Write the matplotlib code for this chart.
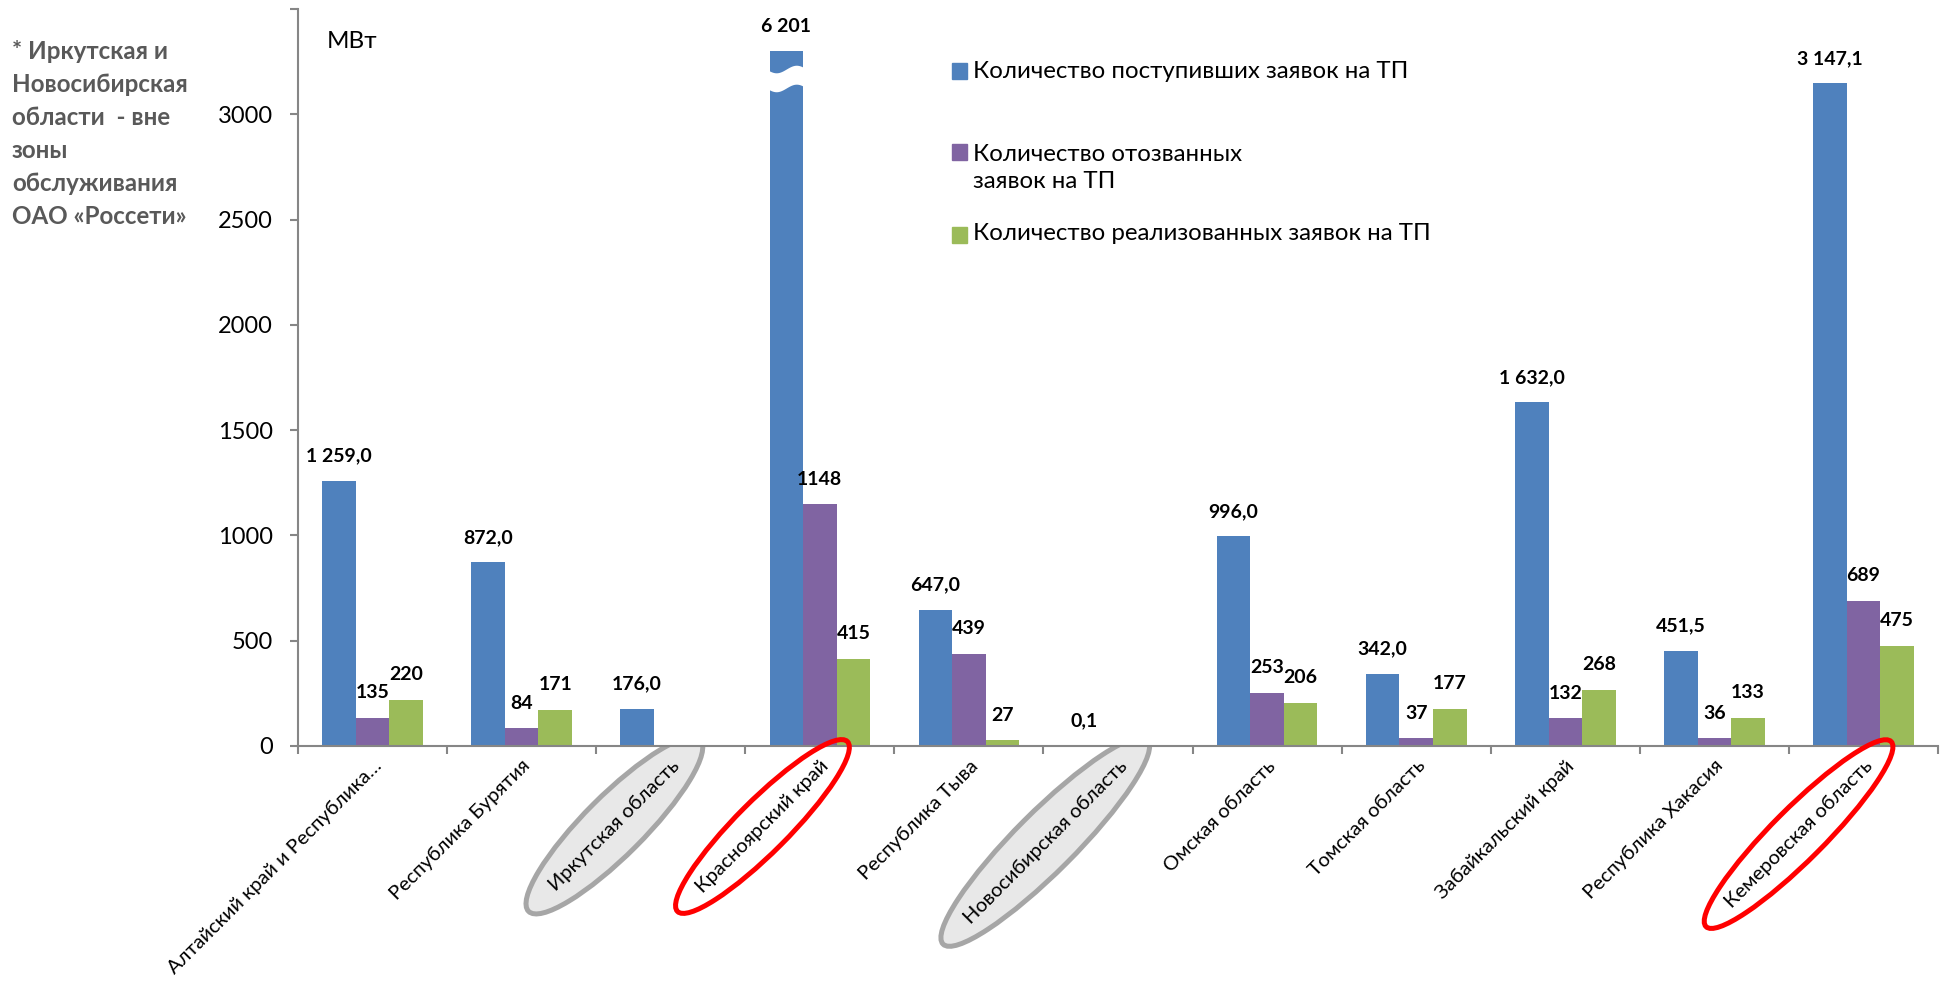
import numpy as np
import matplotlib
matplotlib.use("Agg")
import matplotlib.pyplot as plt
from matplotlib.patches import Ellipse, Rectangle

plt.rcParams['font.family'] = ['Lato', 'DejaVu Sans']

regions = ["Алтайский край и Республика…", "Республика Бурятия", "Иркутская область",
           "Красноярский край", "Республика Тыва", "Новосибирская область", "Омская область",
           "Томская область", "Забайкальский край", "Республика Хакасия", "Кемеровская область"]
received = [1259.0, 872.0, 176.0, 6201.0, 647.0, 0.1, 996.0, 342.0, 1632.0, 451.5, 3147.1]
withdrawn = [135, 84, np.nan, 1148, 439, np.nan, 253, 37, 132, 36, 689]
realized = [220, 171, np.nan, 415, 27, np.nan, 206, 177, 268, 133, 475]
series_names = ["Количество поступивших заявок на ТП",
                "Количество отозванных\nзаявок на ТП",
                "Количество реализованных заявок на ТП"]
gray_marked = ["Иркутская область", "Новосибирская область"]
red_marked = ["Красноярский край", "Кемеровская область"]
note = "* Иркутская и\nНовосибирская\nобласти  - вне\nзоны\nобслуживания\nОАО «Россети»"

colors = ['#4F81BD', '#8064A2', '#9BBB59']
y_max = 3500
cut_at = 3300   # tall bar is drawn broken at this level

W, H = 1946, 985
fig = plt.figure(figsize=(W / 100, H / 100), dpi=100)
ax = fig.add_axes([298 / W, (H - 746) / H, (1938 - 298) / W, (746 - 9) / H])

x = np.arange(len(regions))
bw = 0.225


def fmt_received(v):
    if v > cut_at:
        return f"{v:,.0f}".replace(",", " ")
    return f"{v:,.1f}".replace(",", " ").replace(".", ",")


all_series = [received, withdrawn, realized]
for k, vals in enumerate(all_series):
    vals = np.array(vals, dtype=float)
    xs = x + (k - 1) * bw + 0.5
    ax.bar(xs, np.minimum(vals, cut_at), width=bw, color=colors[k], zorder=2)
    for xi, v in zip(xs, vals):
        if np.isnan(v):
            continue
        txt = fmt_received(v) if k == 0 else f"{v:.0f}"
        ax.annotate(txt, (xi, min(v, cut_at)), xytext=(0, 18), textcoords='offset points',
                    ha='center', va='center', fontsize=14, fontweight='bold', zorder=4)

# break mark on the clipped bar
i_big = int(np.argmax(received))
xb = np.linspace(i_big + 0.5 - 1.6 * bw, i_big + 0.5 - 0.4 * bw, 50)
t = np.linspace(0, 2 * np.pi, 50)
ax.fill_between(xb, 3125 + 18 * np.sin(t + np.pi), 3215 + 18 * np.sin(t + np.pi),
                color='white', zorder=3, lw=0)

ax.set_xlim(0, len(regions))
ax.set_ylim(0, y_max)
ax.set_yticks(np.arange(0, y_max + 1, 500))
ax.set_yticklabels([str(v) if v < y_max else "" for v in range(0, y_max + 1, 500)], fontsize=17)
ax.set_xticks(np.arange(0, len(regions) + 1))
ax.set_xticklabels([])
ax.set_xticks(x + 0.5, minor=True)
ax.set_xticklabels(regions, minor=True, rotation=45, ha='right', rotation_mode='anchor',
                   fontsize=14.5)
ax.tick_params(axis='x', which='minor', length=0, pad=8)
ax.tick_params(axis='x', which='major', length=6, width=1.5, color='#868686', direction='out')
ax.tick_params(axis='y', length=6, width=1.5, color='#868686', pad=12)
for s in ['top', 'right']:
    ax.spines[s].set_visible(False)
for s in ['left', 'bottom']:
    ax.spines[s].set_color('#868686')
    ax.spines[s].set_linewidth(1.5)

# units and note
fig.text(327 / W, 1 - 41 / H, "МВт", fontsize=17.5, va='center', ha='left')
fig.text(12 / W, 1 - 40 / H, note, fontsize=17.4, fontweight='bold', color='#595959',
         va='top', ha='left', linespacing=1.53)

# legend drawn by hand
leg_y = [71, 168, 233]
sq_y = [71, 152, 235]
for k in range(3):
    fig.add_artist(Rectangle((952 / W, 1 - (sq_y[k] + 7.5) / H), 15 / W, 15 / H,
                             transform=fig.transFigure, color=colors[k]))
    fig.text(973 / W, 1 - leg_y[k] / H, series_names[k], fontsize=17.3, va='center',
             ha='left', linespacing=1.41)

# ellipses around selected labels
fig.canvas.draw()
for lab in ax.get_xticklabels(minor=True):
    name = lab.get_text()
    if name not in gray_marked and name not in red_marked:
        continue
    bb = lab.get_window_extent()
    cx, cy = (bb.x0 + bb.x1) / 2, (bb.y0 + bb.y1) / 2
    length = bb.width / 0.7071 - 26
    if name in gray_marked:
        e = Ellipse((cx / 100, cy / 100), (length + 75) / 100, 60 / 100, angle=45,
                    transform=fig.dpi_scale_trans, facecolor='#e8e8e8', edgecolor='#a6a6a6',
                    lw=3.6, zorder=-1)
    else:
        e = Ellipse((cx / 100, cy / 100), (length + 70) / 100, 52 / 100, angle=45,
                    transform=fig.dpi_scale_trans, facecolor='none', edgecolor='#ff0000',
                    lw=3.6, zorder=5)
    fig.add_artist(e)

fig.savefig("out.png", dpi=100)
